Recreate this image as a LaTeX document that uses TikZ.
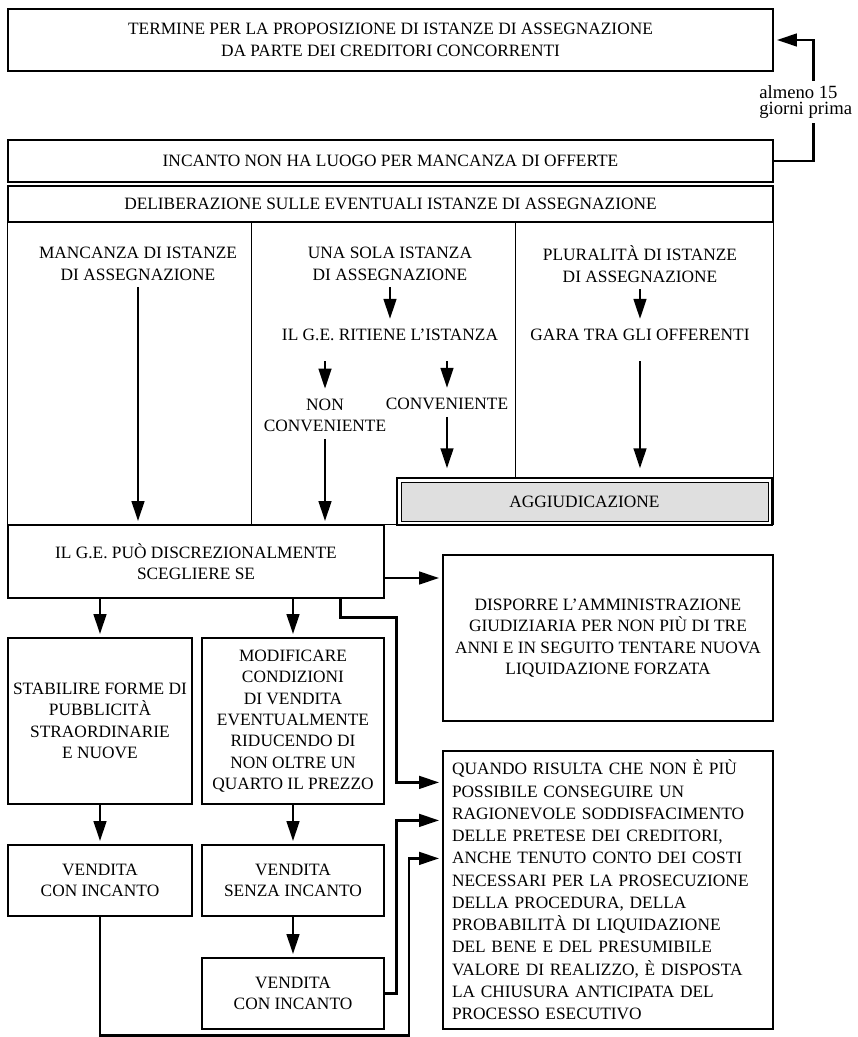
\documentclass[tikz,border=0pt]{standalone}
\usepackage{fontspec}
\setmainfont{Liberation Serif}
\usepackage{tikz}
\usetikzlibrary{arrows.meta,calc,positioning}

\begin{document}
\begin{tikzpicture}[x=0.75pt,y=-0.75pt,
    font=\fontsize{13}{16}\selectfont,
    box/.style={draw,line width=0.9pt,align=center,inner sep=0pt},
    txt/.style={align=center,inner sep=5pt},
    arr/.style={-{Triangle[length=15pt,width=9.5pt]},line width=1.8pt,shorten >=2.5pt},
    conn/.style={line width=1.8pt},
    thinline/.style={line width=0.6pt}]
  \useasboundingbox (0,0) rectangle (857,1037);
  % top boxes
  \node[box,minimum width=573.75pt,minimum height=46.5pt] (termine) at (390.5,40)
    {TERMINE PER LA PROPOSIZIONE DI ISTANZE DI ASSEGNAZIONE\\DA PARTE DEI CREDITORI CONCORRENTI};
  \node[box,minimum width=573.75pt,minimum height=31.5pt] (incanto) at (390.5,161)
    {INCANTO NON HA LUOGO PER MANCANZA DI OFFERTE};
  \node[box,minimum width=573.75pt,minimum height=27pt] (delib) at (390.5,204)
    {DELIBERAZIONE SULLE EVENTUALI ISTANZE DI ASSEGNAZIONE};
  % label on the return line
  \node[align=left,inner sep=3pt,anchor=west,font=\fontsize{14}{12.5}\selectfont] (almeno) at (755,102)
    {almeno 15\\giorni prima};
  \coordinate (turn) at ($(termine.east)+(40,0)$);
  \draw[conn] (incanto.east) -| (turn |- almeno.south);
  \draw[arr] (turn |- almeno.north) -- (turn) -- (termine.east);

  % second block
  \node[box,minimum width=282pt,minimum height=54.75pt] (ilge) at (196,561.5)
    {IL G.E. PUÒ DISCREZIONALMENTE\\SCEGLIERE SE};
  \draw[box] (delib.south west) rectangle (delib.east |- ilge.north);
  \coordinate (col1) at ($(delib.south west)+(244,0)$);
  \coordinate (col2) at ($(delib.south west)+(508,0)$);
  \node[box,fill=gray!25,line width=0.6pt,minimum width=275.25pt,minimum height=29.25pt] (aggiud) at (584.5,501.5)
    {AGGIUDICAZIONE};
  \draw[line width=1.5pt] ($(aggiud.north west)+(-4,-4)$) rectangle ($(aggiud.south east)+(4,4)$);
  \draw[thinline] (col1) -- (col1 |- ilge.north);
  \draw[thinline] (col2) -- ($(col2 |- aggiud.north)+(0,-4)$);

  % columns
  \node[txt] (mancanza) at (138,264) {MANCANZA DI ISTANZE\\DI ASSEGNAZIONE};
  \node[txt] (unasola) at (390,264) {UNA SOLA ISTANZA\\DI ASSEGNAZIONE};
  \node[txt] (plural) at (640,264) {PLURALITÀ DI ISTANZE\\DI ASSEGNAZIONE};
  \node[txt] (ritiene) at (390,335) {IL G.E. RITIENE L’ISTANZA};
  \node[txt] (gara) at (640,335) {GARA TRA GLI OFFERENTI};
  \node[txt] (nonconv) at (325,415.5) {NON\\CONVENIENTE};
  \node[txt] (conv) at (447,404) {CONVENIENTE};

  \draw[arr] (mancanza.south) -- (mancanza.south |- ilge.north);
  \draw[arr] (unasola.south) -- (ritiene.north);
  \draw[arr,shorten <=10pt] (nonconv.north |- ritiene.south) -- (nonconv.north);
  \draw[arr,shorten <=10pt] (conv.north |- ritiene.south) -- (conv.north);
  \draw[arr] (nonconv.south) -- (nonconv.south |- ilge.north);
  \draw[arr,shorten >=10pt] (conv.south) -- (conv.south |- aggiud.north);
  \draw[arr] (plural.south) -- (gara.north);
  \draw[arr,shorten <=10pt,shorten >=10pt] (gara.south) -- (gara.south |- aggiud.north);

  % lower boxes
  \node[box,minimum width=247.5pt,minimum height=124.5pt] (disporre) at (608,638)
    {DISPORRE L’AMMINISTRAZIONE\\GIUDIZIARIA PER NON PIÙ DI TRE\\ANNI E IN SEGUITO TENTARE NUOVA\\LIQUIDAZIONE FORZATA};
  \node[box,align=left,text width=234pt,inner xsep=6.75pt,minimum height=208.5pt,
    font=\fontsize{13}{16.7}\selectfont] (quando) at (608,890)
    {QUANDO RISULTA CHE NON È PIÙ\\POSSIBILE CONSEGUIRE UN\\RAGIONEVOLE SODDISFACIMENTO\\DELLE PRETESE DEI CREDITORI,\\ANCHE TENUTO CONTO DEI COSTI\\NECESSARI PER LA PROSECUZIONE\\DELLA PROCEDURA, DELLA\\PROBABILITÀ DI LIQUIDAZIONE\\DEL BENE E DEL PRESUMIBILE\\VALORE DI REALIZZO, È DISPOSTA\\LA CHIUSURA ANTICIPATA DEL\\PROCESSO ESECUTIVO};
  \node[box,minimum width=138pt,minimum height=124.5pt] (stabilire) at (100,721)
    {STABILIRE FORME DI\\PUBBLICITÀ\\STRAORDINARIE\\E NUOVE};
  \node[box,minimum width=136.5pt,minimum height=124.5pt] (modificare) at (293,721)
    {MODIFICARE\\CONDIZIONI\\DI VENDITA\\EVENTUALMENTE\\RIDUCENDO DI\\NON OLTRE UN\\QUARTO IL PREZZO};
  \node[box,minimum width=138pt,minimum height=53.25pt] (vcon1) at (100,880.5) {VENDITA\\CON INCANTO};
  \node[box,minimum width=136.5pt,minimum height=53.25pt] (vsenza) at (293,880.5) {VENDITA\\SENZA INCANTO};
  \node[box,minimum width=136.5pt,minimum height=53.25pt] (vcon2) at (293,993.5) {VENDITA\\CON INCANTO};

  \draw[arr] ($(ilge.east)+(0,16.5)$) -- ($(ilge.east -| disporre.west)+(0,16.5)$);
  \draw[arr] (stabilire.north |- ilge.south) -- (stabilire.north);
  \draw[arr] (modificare.north |- ilge.south) -- (modificare.north);
  \draw[arr] (stabilire.south) -- (vcon1.north);
  \draw[arr] (modificare.south) -- (vsenza.north);
  \draw[arr] (vsenza.south) -- (vcon2.north);
  % lines into the last box
  \draw[arr] ($(ilge.south east)+(-44,0)$) -- ++(0,19) -- ++(56,0) |- ($(quando.north west)+(0,32)$);
  \draw[arr] (vcon2.east) -- ++(12,0) |- ($(quando.north west)+(0,70)$);
  \draw[arr] (vcon1.south) -- ++(0,119) -- ++(309,0) |- ($(quando.north west)+(0,108)$);
\end{tikzpicture}
\end{document}
